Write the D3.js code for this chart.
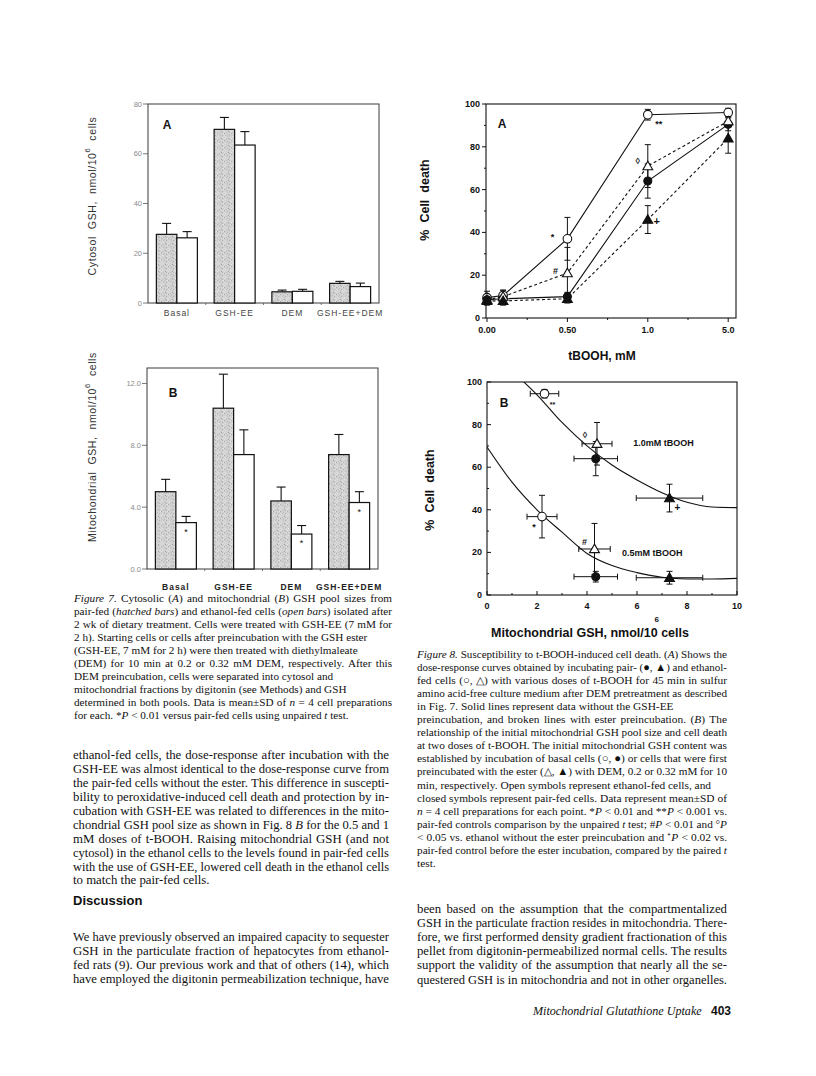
<!DOCTYPE html>
<html><head><meta charset="utf-8">
<script src="https://cdn.jsdelivr.net/npm/d3@7"></script>
<style>body{margin:0;background:#fff} svg{display:block}</style>
</head><body>
<svg id="page" width="816" height="1076"></svg>
<script>
// ---------------- DATA ----------------
const fig7Categories = ["Basal", "GSH-EE", "DEM", "GSH-EE+DEM"];
const cytoPairFed = [27.6, 69.8, 4.5, 7.9];
const cytoPairFedSD = [4.4, 4.8, 0.7, 0.8];
const cytoEthanol = [26.2, 63.5, 4.7, 6.6];
const cytoEthanolSD = [2.5, 5.4, 0.8, 1.4];
const cytoTicks = [0, 20, 40, 60, 80];
const cytoTickLabels = ["0", "20", "40", "60", "80"];

const mitoPairFed = [5.0, 10.4, 4.4, 7.4];
const mitoPairFedSD = [0.8, 2.2, 0.9, 1.3];
const mitoEthanol = [3.0, 7.4, 2.26, 4.3];
const mitoEthanolSD = [0.4, 1.6, 0.55, 0.7];
const mitoSignificant = [true, false, true, true];
const mitoTicks = [0, 4, 8, 12];
const mitoTickLabels = ["0.0", "4.0", "8.0", "12.0"];

const doses = [0, 0.1, 0.5, 1.0, 5.0];
const doseTicks = [0, 0.5, 1, 5];
const doseTickLabels = ["0.00", "0.50", "1.0", "5.0"];
const doseMinorTicks = [0.25, 0.75, 3];
const deathEthanolBasal = [9.5, 10.5, 37, 95, 96];
const deathEthanolBasalSD = [3, 2.5, 10, 2.5, 2];
const deathPairBasal = [8.5, 9, 10, 64, 90.5];
const deathPairBasalSD = [2, 2, 2, 8, 3];
const deathEthanolEster = [8.5, 10, 21, 71, 92];
const deathEthanolEsterSD = [2, 3, 12, 10, 2];
const deathPairEster = [8, 8, 9, 46, 84];
const deathPairEsterSD = [2, 2, 2, 6.5, 7];
const deathTicks = [0, 20, 40, 60, 80, 100];
const deathMinorTicks = [10, 30, 50, 70, 90];

const symbolOrder = ["oc", "ot", "fc", "ft"];
const gshAt1mM = [2.3, 4.4, 4.35, 7.3];
const gshAt1mMSD = [0.57, 0.6, 0.87, 1.33];
const deathAt1mM = [94.5, 71, 64, 45.5];
const deathAt1mMSD = [2, 10, 8, 6.5];
const gshAt05mM = [2.2, 4.3, 4.35, 7.3];
const gshAt05mMSD = [0.6, 0.63, 0.87, 1.33];
const deathAt05mM = [36.8, 21.6, 8.6, 8.1];
const deathAt05mMSD = [10, 12, 2.5, 3];
const fit1mMx = [1.2, 2, 3, 4, 5, 6, 7, 8, 9, 10];
const fit1mMy = [103, 94, 81, 70, 61, 54, 48, 43.5, 41.3, 41];
const fit05mMx = [0, 1, 2, 3, 4, 5, 6, 7, 8, 9, 10];
const fit05mMy = [69.5, 53, 40, 29.5, 19.5, 13.8, 10.5, 8.3, 7.5, 7.5, 7.8];
const gshTicks = [0, 2, 4, 6, 8, 10];
const gshMinorTicks = [1, 3, 5, 7, 9];

// ---------------- TEXT ----------------
const fig7Caption = [
  ["~Figure 7.~ Cytosolic (~A~) and mitochondrial (~B~) GSH pool sizes from", 1],
  ["pair-fed (~hatched bars~) and ethanol-fed cells (~open bars~) isolated after", 1],
  ["2 wk of dietary treatment. Cells were treated with GSH-EE (7 mM for", 1],
  ["2 h). Starting cells or cells after preincubation with the GSH ester", 0],
  ["(GSH-EE, 7 mM for 2 h) were then treated with diethylmaleate", 0],
  ["(DEM) for 10 min at 0.2 or 0.32 mM DEM, respectively. After this", 1],
  ["DEM preincubation, cells were separated into cytosol and", 0],
  ["mitochondrial fractions by digitonin (see Methods) and GSH", 0],
  ["determined in both pools. Data is mean±SD of ~n~ = 4 cell preparations", 1],
  ["for each. *~P~ < 0.01 versus pair-fed cells using unpaired ~t~ test.", 0]
];
const fig8Caption = [
  ["~Figure 8.~ Susceptibility to t-BOOH-induced cell death. (~A~) Shows the", 1],
  ["dose-response curves obtained by incubating pair- (●, ▲) and ethanol-", 1],
  ["fed cells (○, △) with various doses of t-BOOH for 45 min in sulfur", 1],
  ["amino acid-free culture medium after DEM pretreatment as described", 1],
  ["in Fig. 7. Solid lines represent data without the GSH-EE", 0],
  ["preincubation, and broken lines with ester preincubation. (~B~) The", 1],
  ["relationship of the initial mitochondrial GSH pool size and cell death", 1],
  ["at two doses of t-BOOH. The initial mitochondrial GSH content was", 1],
  ["established by incubation of basal cells (○, ●) or cells that were first", 1],
  ["preincubated with the ester (△, ▲) with DEM, 0.2 or 0.32 mM for 10", 1],
  ["min, respectively. Open symbols represent ethanol-fed cells, and", 0],
  ["closed symbols represent pair-fed cells. Data represent mean±SD of", 1],
  ["~n~ = 4 cell preparations for each point. *~P~ < 0.01 and **~P~ < 0.001 vs.", 1],
  ["pair-fed controls comparison by the unpaired ~t~ test; #~P~ < 0.01 and °~P~", 1],
  ["< 0.05 vs. ethanol without the ester preincubation and ⁺~P~ < 0.02 vs.", 1],
  ["pair-fed control before the ester incubation, compared by the paired ~t~", 1],
  ["test.", 0]
];
const leftBody = [
  ["ethanol-fed cells, the dose-response after incubation with the", 1],
  ["GSH-EE was almost identical to the dose-response curve from", 1],
  ["the pair-fed cells without the ester. This difference in suscepti-", 1],
  ["bility to peroxidative-induced cell death and protection by in-", 1],
  ["cubation with GSH-EE was related to differences in the mito-", 1],
  ["chondrial GSH pool size as shown in Fig. 8 ~B~ for the 0.5 and 1", 1],
  ["mM doses of t-BOOH. Raising mitochondrial GSH (and not", 1],
  ["cytosol) in the ethanol cells to the levels found in pair-fed cells", 1],
  ["with the use of GSH-EE, lowered cell death in the ethanol cells", 1],
  ["to match the pair-fed cells.", 0]
];
const discussionBody = [
  ["We have previously observed an impaired capacity to sequester", 1],
  ["GSH in the particulate fraction of hepatocytes from ethanol-", 1],
  ["fed rats (9). Our previous work and that of others (14), which", 1],
  ["have employed the digitonin permeabilization technique, have", 1]
];
const rightBody = [
  ["been based on the assumption that the compartmentalized", 1],
  ["GSH in the particulate fraction resides in mitochondria. There-", 1],
  ["fore, we first performed density gradient fractionation of this", 1],
  ["pellet from digitonin-permeabilized normal cells. The results", 1],
  ["support the validity of the assumption that nearly all the se-", 1],
  ["questered GSH is in mitochondria and not in other organelles.", 1]
];

// ---------------- SETUP ----------------
const SANS = "'Liberation Sans', Arial, Helvetica, sans-serif";
const SERIF = "'Liberation Serif', 'Times New Roman', serif";
const INK = "#111";
const svg = d3.select("#page");
svg.append("rect").attr("width", 816).attr("height", 1076).attr("fill", "#fff");
const defs = svg.append("defs");
const pat = defs.append("pattern").attr("id", "stipple").attr("patternUnits", "userSpaceOnUse")
  .attr("width", 7).attr("height", 7);
pat.append("rect").attr("width", 7).attr("height", 7).attr("fill", "#d2d2d2");
[[0,0,"#a8a8a8"],[3,1,"#bababa"],[5,2,"#b0b0b0"],[1,3,"#e8e8e8"],[4,5,"#a2a2a2"],
 [6,4,"#dedede"],[2,6,"#c0c0c0"],[6,0,"#e6e6e6"],[2,2,"#c4c4c4"],[5,6,"#b6b6b6"],[0,5,"#e2e2e2"],[4,3,"#c8c8c8"]]
  .forEach(d => pat.append("rect").attr("x", d[0]).attr("y", d[1]).attr("width", 1).attr("height", 1).attr("fill", d[2]));

function richText(parent, str, x, y, family, size, color) {
  const t = parent.append("text").attr("x", x).attr("y", y)
    .attr("font-family", family).attr("font-size", size).attr("fill", color || INK)
    .style("white-space", "pre");
  str.split("~").forEach((p, i) => {
    if (!p) return;
    const ts = t.append("tspan").text(p);
    if (i % 2 === 1) ts.attr("font-style", "italic");
  });
  return t;
}
function textBlock(lines, x, width, y0, step, family, size) {
  const g = svg.append("g");
  lines.forEach((ln, i) => {
    const t = richText(g, ln[0], x, y0 + i * step, family, size);
    const w = t.node().getComputedTextLength();
    if (w > width + 0.5) {
      t.attr("textLength", width).attr("lengthAdjust", "spacingAndGlyphs");
    } else if (ln[1]) {
      const spaces = (ln[0].match(/ /g) || []).length;
      if (spaces > 0) t.style("word-spacing", ((width - w) / spaces) + "px");
    }
  });
}

// ---------------- FIGURE 7 (bar panels) ----------------
function barPanel(cfg) {
  const g = svg.append("g");
  const x = d3.scaleBand().domain(fig7Categories).range([cfg.left, cfg.right]);
  const y = d3.scaleLinear().domain(cfg.domain).range([cfg.bottom, cfg.top]);
  const bw = x.bandwidth() * 0.355;
  g.append("rect").attr("x", cfg.left).attr("y", cfg.top)
    .attr("width", cfg.right - cfg.left).attr("height", cfg.bottom - cfg.top)
    .attr("fill", "none").attr("stroke", "#3a3a3a").attr("stroke-width", 1);
  cfg.ticks.forEach((t, i) => {
    g.append("line").attr("x1", cfg.left - 5).attr("x2", cfg.left).attr("y1", y(t)).attr("y2", y(t))
      .attr("stroke", "#555").attr("stroke-width", 0.8);
    g.append("text").attr("x", cfg.left - 6).attr("y", y(t) + 2.5).attr("text-anchor", "end")
      .attr("font-family", SANS).attr("font-size", 7.5).attr("fill", "#8a8a8a").text(cfg.tickLabels[i]);
  });
  fig7Categories.slice(1).forEach(c => {
    g.append("line").attr("x1", x(c)).attr("x2", x(c)).attr("y1", cfg.bottom).attr("y2", cfg.bottom + 2)
      .attr("stroke", "#555").attr("stroke-width", 0.8);
  });
  fig7Categories.forEach((c, i) => {
    const cx = x(c) + x.bandwidth() / 2;
    const bars = [
      { v: cfg.pair[i], sd: cfg.pairSD[i], fill: "url(#stipple)", x0: cx - bw },
      { v: cfg.eth[i], sd: cfg.ethSD[i], fill: "#fff", x0: cx }
    ];
    bars.forEach(b => {
      const mx = b.x0 + bw / 2;
      g.append("line").attr("x1", mx).attr("x2", mx).attr("y1", y(b.v)).attr("y2", y(b.v + b.sd))
        .attr("stroke", INK).attr("stroke-width", 1.1);
      g.append("line").attr("x1", mx - 4.5).attr("x2", mx + 4.5).attr("y1", y(b.v + b.sd)).attr("y2", y(b.v + b.sd))
        .attr("stroke", INK).attr("stroke-width", 1.1);
      g.append("rect").attr("x", b.x0).attr("y", y(b.v)).attr("width", bw).attr("height", y(cfg.domain[0]) - y(b.v))
        .attr("fill", b.fill).attr("stroke", INK).attr("stroke-width", 1.2);
    });
    if (cfg.signif && cfg.signif[i]) {
      g.append("text").attr("x", cx + bw / 2).attr("y", y(cfg.eth[i]) + 12).attr("text-anchor", "middle")
        .attr("font-family", SANS).attr("font-size", 9).attr("fill", INK).text("*");
    }
    g.append("text").attr("x", cx).attr("y", cfg.catY).attr("text-anchor", "middle")
      .attr("font-family", SANS).attr("font-size", 8.5).attr("letter-spacing", 1)
      .attr("font-weight", cfg.catBold ? "bold" : "normal")
      .attr("fill", cfg.catBold ? "#222" : "#444").text(c);
  });
  g.append("text").attr("x", cfg.letterX).attr("y", cfg.letterY).attr("text-anchor", "middle")
    .attr("font-family", SANS).attr("font-weight", "bold").attr("font-size", 12).attr("fill", INK).text(cfg.letter);
  const yl = g.append("text").attr("transform", `translate(${cfg.ylabelX},${cfg.ylabelY}) rotate(-90)`)
    .attr("text-anchor", "middle").attr("font-family", SANS).attr("font-size", 10.5)
    .attr("letter-spacing", 0.6).attr("fill", "#333").style("white-space", "pre");
  yl.append("tspan").text(cfg.ylabel[0]);
  yl.append("tspan").attr("dy", -6).attr("font-size", 7.5).text("6");
  yl.append("tspan").attr("dy", 6).text(cfg.ylabel[1]);
}

barPanel({
  left: 148, right: 379, top: 104, bottom: 303, domain: [0, 80],
  ticks: cytoTicks, tickLabels: cytoTickLabels,
  pair: cytoPairFed, pairSD: cytoPairFedSD, eth: cytoEthanol, ethSD: cytoEthanolSD,
  catY: 316, catBold: false, letter: "A", letterX: 167, letterY: 129,
  ylabel: ["Cytosol  GSH,  nmol/10", "  cells"], ylabelX: 96, ylabelY: 196
});
barPanel({
  left: 147, right: 378, top: 368, bottom: 569, domain: [0, 13],
  ticks: mitoTicks, tickLabels: mitoTickLabels,
  pair: mitoPairFed, pairSD: mitoPairFedSD, eth: mitoEthanol, ethSD: mitoEthanolSD, signif: mitoSignificant,
  catY: 590, catBold: true, letter: "B", letterX: 173, letterY: 397,
  ylabel: ["Mitochondrial  GSH,  nmol/10", "  cells"], ylabelX: 96, ylabelY: 447
});

// ---------------- markers ----------------
function marker(g, type, cx, cy) {
  if (type === "oc" || type === "fc") {
    g.append("circle").attr("cx", cx).attr("cy", cy).attr("r", type === "oc" ? 4.3 : 4)
      .attr("fill", type === "oc" ? "#fff" : INK).attr("stroke", INK).attr("stroke-width", 1.1);
  } else {
    g.append("path").attr("d", d3.symbol(d3.symbolTriangle, 42)())
      .attr("transform", `translate(${cx},${cy + 0.8})`)
      .attr("fill", type === "ot" ? "#fff" : INK).attr("stroke", INK).attr("stroke-width", 1.1);
  }
}
function vErr(g, cx, y1, y2, cap) {
  g.append("line").attr("x1", cx).attr("x2", cx).attr("y1", y1).attr("y2", y2).attr("stroke", INK).attr("stroke-width", 1);
  [y1, y2].forEach(yy => g.append("line").attr("x1", cx - cap).attr("x2", cx + cap).attr("y1", yy).attr("y2", yy)
    .attr("stroke", INK).attr("stroke-width", 1));
}
function hErr(g, cy, x1, x2, cap) {
  g.append("line").attr("x1", x1).attr("x2", x2).attr("y1", cy).attr("y2", cy).attr("stroke", INK).attr("stroke-width", 1);
  [x1, x2].forEach(xx => g.append("line").attr("x1", xx).attr("x2", xx).attr("y1", cy - cap).attr("y2", cy + cap)
    .attr("stroke", INK).attr("stroke-width", 1));
}
function note(g, txt, x, y, size) {
  g.append("text").attr("x", x).attr("y", y).attr("text-anchor", "middle").attr("font-family", SANS)
    .attr("font-size", size || 9).attr("font-weight", "bold").attr("fill", INK).text(txt);
}

// ---------------- FIGURE 8A ----------------
(function () {
  const L = 486, R = 736, T = 104, B = 318;
  const g = svg.append("g");
  const step = (728.2 - 487) / (doseTicks.length - 1);
  const x = d3.scaleLinear().domain(doseTicks).range(doseTicks.map((d, i) => 487 + i * step));
  const y = d3.scaleLinear().domain([0, 100]).range([B, T]);
  g.append("rect").attr("x", L).attr("y", T).attr("width", R - L).attr("height", B - T)
    .attr("fill", "none").attr("stroke", INK).attr("stroke-width", 1.1);
  deathTicks.forEach(t => {
    g.append("line").attr("x1", L - 4).attr("x2", L).attr("y1", y(t)).attr("y2", y(t)).attr("stroke", INK);
    g.append("text").attr("x", L - 6).attr("y", y(t) + 3).attr("text-anchor", "end").attr("font-family", SANS)
      .attr("font-size", 9).attr("font-weight", "bold").attr("fill", INK).text(t);
  });
  deathMinorTicks.forEach(t => g.append("line").attr("x1", L - 2).attr("x2", L).attr("y1", y(t)).attr("y2", y(t)).attr("stroke", INK));
  doseTicks.forEach((t, i) => {
    g.append("line").attr("x1", x(t)).attr("x2", x(t)).attr("y1", B).attr("y2", B + 4).attr("stroke", INK);
    g.append("text").attr("x", x(t)).attr("y", B + 15).attr("text-anchor", "middle").attr("font-family", SANS)
      .attr("font-size", 9).attr("font-weight", "bold").attr("fill", INK).text(doseTickLabels[i]);
  });
  doseMinorTicks.forEach(t => g.append("line").attr("x1", x(t)).attr("x2", x(t)).attr("y1", B).attr("y2", B + 2).attr("stroke", INK));

  const series = [
    { v: deathEthanolBasal, sd: deathEthanolBasalSD, m: "oc", dash: null },
    { v: deathPairBasal, sd: deathPairBasalSD, m: "fc", dash: null },
    { v: deathEthanolEster, sd: deathEthanolEsterSD, m: "ot", dash: "3,2.5" },
    { v: deathPairEster, sd: deathPairEsterSD, m: "ft", dash: "3,2.5" }
  ];
  const line = d3.line().x(d => x(d[0])).y(d => y(d[1]));
  series.forEach(s => {
    g.append("path").attr("d", line(doses.map((d, i) => [d, s.v[i]]))).attr("fill", "none")
      .attr("stroke", INK).attr("stroke-width", 1.1).attr("stroke-dasharray", s.dash);
  });
  series.forEach(s => doses.forEach((d, i) => vErr(g, x(d), y(s.v[i] + s.sd[i]), y(Math.max(0, s.v[i] - s.sd[i])), 3)));
  series.forEach(s => doses.forEach((d, i) => marker(g, s.m, x(d), y(s.v[i]))));

  note(g, "A", 502, 128, 12);
  note(g, "*", x(0.5) - 15, y(37) + 1, 9);
  note(g, "#", x(0.5) - 12, y(21) + 1, 9);
  note(g, "◊", x(1) - 10, y(71) - 2, 9);
  note(g, "**", x(1) + 11, y(95) + 12, 9);
  note(g, "+", x(1) + 9, y(46) + 5, 11);

  g.append("text").attr("transform", `translate(429,200) rotate(-90)`).attr("text-anchor", "middle")
    .attr("font-family", SANS).attr("font-weight", "bold").attr("font-size", 12.5).attr("fill", INK)
    .style("white-space", "pre").text("%  Cell  death");
  g.append("text").attr("x", 602).attr("y", 360).attr("text-anchor", "middle").attr("font-family", SANS)
    .attr("font-weight", "bold").attr("font-size", 12).attr("fill", INK).text("tBOOH, mM");
})();

// ---------------- FIGURE 8B ----------------
(function () {
  const L = 487, R = 737, T = 382, B = 595;
  const g = svg.append("g");
  const x = d3.scaleLinear().domain([0, 10]).range([L, R]);
  const y = d3.scaleLinear().domain([0, 100]).range([B, T]);
  defs.append("clipPath").attr("id", "clip8b").append("rect").attr("x", L).attr("y", T).attr("width", R - L).attr("height", B - T);
  g.append("rect").attr("x", L).attr("y", T).attr("width", R - L).attr("height", B - T)
    .attr("fill", "none").attr("stroke", INK).attr("stroke-width", 1.1);
  deathTicks.forEach(t => {
    g.append("line").attr("x1", L).attr("x2", L + 4).attr("y1", y(t)).attr("y2", y(t)).attr("stroke", INK);
    g.append("text").attr("x", L - 5).attr("y", y(t) + 3).attr("text-anchor", "end").attr("font-family", SANS)
      .attr("font-size", 9).attr("font-weight", "bold").attr("fill", INK).text(t);
  });
  deathMinorTicks.forEach(t => g.append("line").attr("x1", L).attr("x2", L + 2).attr("y1", y(t)).attr("y2", y(t)).attr("stroke", INK));
  gshTicks.forEach(t => {
    g.append("line").attr("x1", x(t)).attr("x2", x(t)).attr("y1", B).attr("y2", B - 4).attr("stroke", INK);
    g.append("text").attr("x", x(t)).attr("y", B + 14).attr("text-anchor", "middle").attr("font-family", SANS)
      .attr("font-size", 9).attr("font-weight", "bold").attr("fill", INK).text(t);
  });
  gshMinorTicks.forEach(t => g.append("line").attr("x1", x(t)).attr("x2", x(t)).attr("y1", B).attr("y2", B - 2).attr("stroke", INK));

  const curve = d3.line().x(d => x(d[0])).y(d => y(d[1])).curve(d3.curveMonotoneX);
  const cg = g.append("g").attr("clip-path", "url(#clip8b)");
  cg.append("path").attr("d", curve(fit1mMx.map((d, i) => [d, fit1mMy[i]]))).attr("fill", "none").attr("stroke", INK).attr("stroke-width", 1.1);
  cg.append("path").attr("d", curve(fit05mMx.map((d, i) => [d, fit05mMy[i]]))).attr("fill", "none").attr("stroke", INK).attr("stroke-width", 1.1);

  const sets = [
    { gx: gshAt1mM, gsd: gshAt1mMSD, d: deathAt1mM, dsd: deathAt1mMSD },
    { gx: gshAt05mM, gsd: gshAt05mMSD, d: deathAt05mM, dsd: deathAt05mMSD }
  ];
  sets.forEach(s => symbolOrder.forEach((m, i) => {
    hErr(g, y(s.d[i]), x(s.gx[i] - s.gsd[i]), x(s.gx[i] + s.gsd[i]), 3);
    vErr(g, x(s.gx[i]), y(s.d[i] + s.dsd[i]), y(Math.max(0, s.d[i] - s.dsd[i])), 3);
  }));
  sets.forEach(s => symbolOrder.forEach((m, i) => marker(g, m, x(s.gx[i]), y(s.d[i]))));

  note(g, "B", 504, 407, 12);
  note(g, "**", x(gshAt1mM[0]) + 8, y(deathAt1mM[0]) + 13, 7);
  note(g, "◊", x(gshAt1mM[1]) - 12, y(deathAt1mM[1]) - 6, 9);
  note(g, "+", x(gshAt1mM[3]) + 8, y(deathAt1mM[3]) + 13, 10);
  note(g, "*", x(gshAt05mM[0]) - 8, y(deathAt05mM[0]) + 13, 9);
  note(g, "#", x(gshAt05mM[1]) - 10, y(deathAt05mM[1]) - 4, 9);
  g.append("text").attr("x", x(5.85)).attr("y", y(71.4) + 3.5).attr("font-family", SANS).attr("font-weight", "bold")
    .attr("font-size", 9).attr("fill", INK).text("1.0mM tBOOH");
  g.append("text").attr("x", x(5.4)).attr("y", y(20) + 3.5).attr("font-family", SANS).attr("font-weight", "bold")
    .attr("font-size", 9).attr("fill", INK).text("0.5mM tBOOH");

  g.append("text").attr("transform", `translate(434,490) rotate(-90)`).attr("text-anchor", "middle")
    .attr("font-family", SANS).attr("font-weight", "bold").attr("font-size", 12.5).attr("fill", INK)
    .style("white-space", "pre").text("%  Cell  death");
  const xl = g.append("text").attr("x", 590).attr("y", 637).attr("text-anchor", "middle").attr("font-family", SANS)
    .attr("font-weight", "bold").attr("font-size", 12.5).attr("fill", INK).text("Mitochondrial GSH, nmol/10 cells");
  const node = xl.node();
  const full = "Mitochondrial GSH, nmol/10 cells";
  const start = node.getStartPositionOfChar(0).x;
  const endOf10 = start + node.getSubStringLength(0, full.indexOf(" cells"));
  g.append("text").attr("x", endOf10 - 1).attr("y", 622).attr("text-anchor", "middle").attr("font-family", SANS)
    .attr("font-weight", "bold").attr("font-size", 8).attr("fill", INK).text("6");
})();

// ---------------- TEXT BLOCKS ----------------
textBlock(fig7Caption, 74, 318, 602, 13.05, SERIF, 11.2);
textBlock(fig8Caption, 417, 310, 658, 13.05, SERIF, 11.4);
textBlock(leftBody, 73, 316, 759.3, 13.9, SERIF, 12.8);
svg.append("text").attr("x", 73).attr("y", 905).attr("font-family", SANS).attr("font-weight", "bold")
  .attr("font-size", 13).attr("fill", INK).text("Discussion");
textBlock(discussionBody, 73, 316, 940.5, 14.3, SERIF, 12.8);
textBlock(rightBody, 417, 310, 912.5, 14.2, SERIF, 12.8);
richText(svg, "~Mitochondrial Glutathione Uptake~", 533, 1015, SERIF, 12.1);
svg.append("text").attr("x", 711).attr("y", 1015).attr("font-family", SANS).attr("font-weight", "bold")
  .attr("font-size", 12).attr("fill", INK).text("403");
</script>
</body></html>
